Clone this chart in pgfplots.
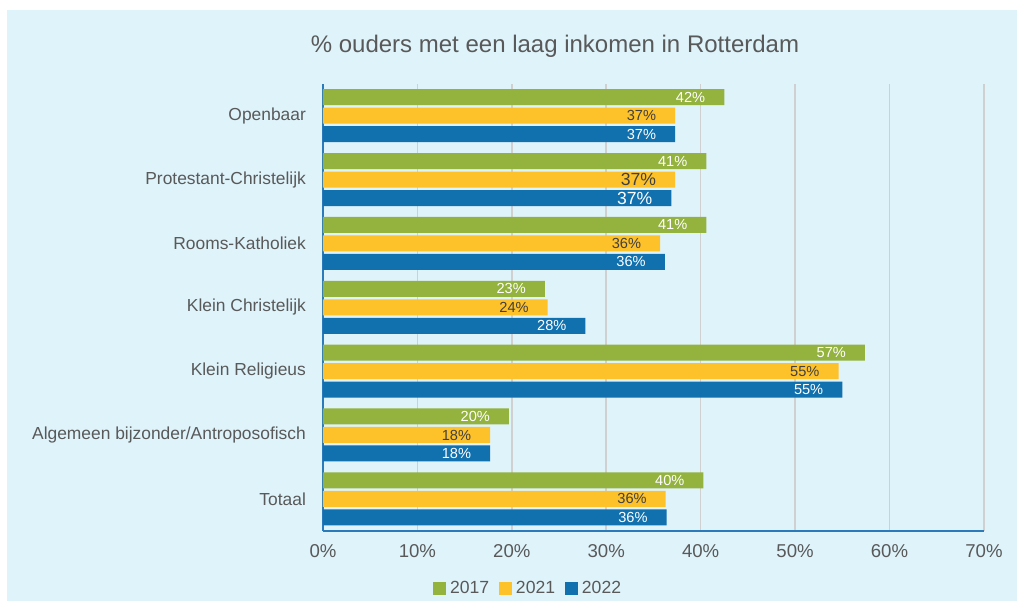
\documentclass[border=0pt]{standalone}
\usepackage{pgfplots}
\pgfplotsset{compat=1.18}
\usepackage{fontspec}
\setmainfont{Liberation Sans}
\definecolor{bgc}{HTML}{DFF3FA}
\definecolor{cgreen}{HTML}{93B23E}
\definecolor{cyellow}{HTML}{FDC12A}
\definecolor{cblue}{HTML}{1170AE}
\definecolor{axblue}{HTML}{2B7BBA}
\definecolor{txt}{HTML}{595959}
\definecolor{gridc}{HTML}{D0D0D0}
\begin{document}
\begin{tikzpicture}[x=0.5pt,y=0.5pt]
\useasboundingbox (0,0) rectangle (1017,601);
\fill[white] (0,0) rectangle (1017,601);
\fill[bgc] (7,0) rectangle (1017,591);
\node[text=txt,font=\fontsize{12}{14}\selectfont] at (555,555) {\% ouders met een laag inkomen in Rotterdam};
\begin{axis}[
  at={(342,110)}, anchor=south west,
  scale only axis, width=330.5pt, height=223.5pt,
  xbar, bar width=8pt,
  xmin=0, xmax=70, ymin=-0.5, ymax=6.5,
  axis x line*=bottom, axis y line*=left,
  axis line style={draw=axblue, line width=1pt, -},
  xtick={0,10,...,70},
  xticklabel={\pgfmathprintnumber{\tick}\%},
  xticklabel style={text=txt, font=\fontsize{9.3}{10}\selectfont, yshift=-3.5pt},
  /pgf/number format/assume math mode=true,
  ytick={0,...,6},
  yticklabels={Totaal,Algemeen bijzonder/Antroposofisch,Klein Religieus,Klein Christelijk,Rooms-Katholiek,Protestant-Christelijk,Openbaar},
  yticklabel style={text=txt, font=\fontsize{8.7}{10}\selectfont, xshift=-5pt},
  major tick length=0pt,
  xmajorgrids, grid style={draw=gridc, line width=0.75pt},
  point meta=explicit symbolic,
  nodes near coords,
  every node near coord/.append style={anchor=east, xshift=-6pt, font=\fontsize{7.3}{8}\selectfont},
  legend style={at={(0.312,-0.13)}, anchor=center, draw=none, fill=none, legend columns=3,
    font=\fontsize{8.8}{10}\selectfont, text=txt,
    /tikz/every even column/.append style={column sep=3pt}},
  legend image code/.code={\fill[#1,draw=none] (0pt,-3.2pt) rectangle (6.4pt,3.2pt);},
  legend cell align=left,
]
\addplot[fill=cgreen, draw=none, bar shift=9.25pt, every node near coord/.append style={text=white}] coordinates {
 (42.5,6) [42\%] (40.6,5) [41\%] (40.6,4) [41\%] (23.5,3) [23\%] (57.4,2) [57\%] (19.7,1) [20\%] (40.3,0) [40\%]};
\addplot[fill=cyellow, draw=none, bar shift=0pt, every node near coord/.append style={text=black!75}] coordinates {
 (37.3,6) [37\%] (37.3,5) [{\fontsize{8.8}{9}\selectfont 37\%}] (35.7,4) [36\%] (23.8,3) [24\%] (54.6,2) [55\%] (17.7,1) [18\%] (36.3,0) [36\%]};
\addplot[fill=cblue, draw=none, bar shift=-9.25pt, every node near coord/.append style={text=white}] coordinates {
 (37.3,6) [37\%] (36.9,5) [{\fontsize{8.8}{9}\selectfont 37\%}] (36.2,4) [36\%] (27.8,3) [28\%] (55.0,2) [55\%] (17.7,1) [18\%] (36.4,0) [36\%]};
\legend{2017,2021,2022}
\end{axis}
\end{tikzpicture}
\end{document}
